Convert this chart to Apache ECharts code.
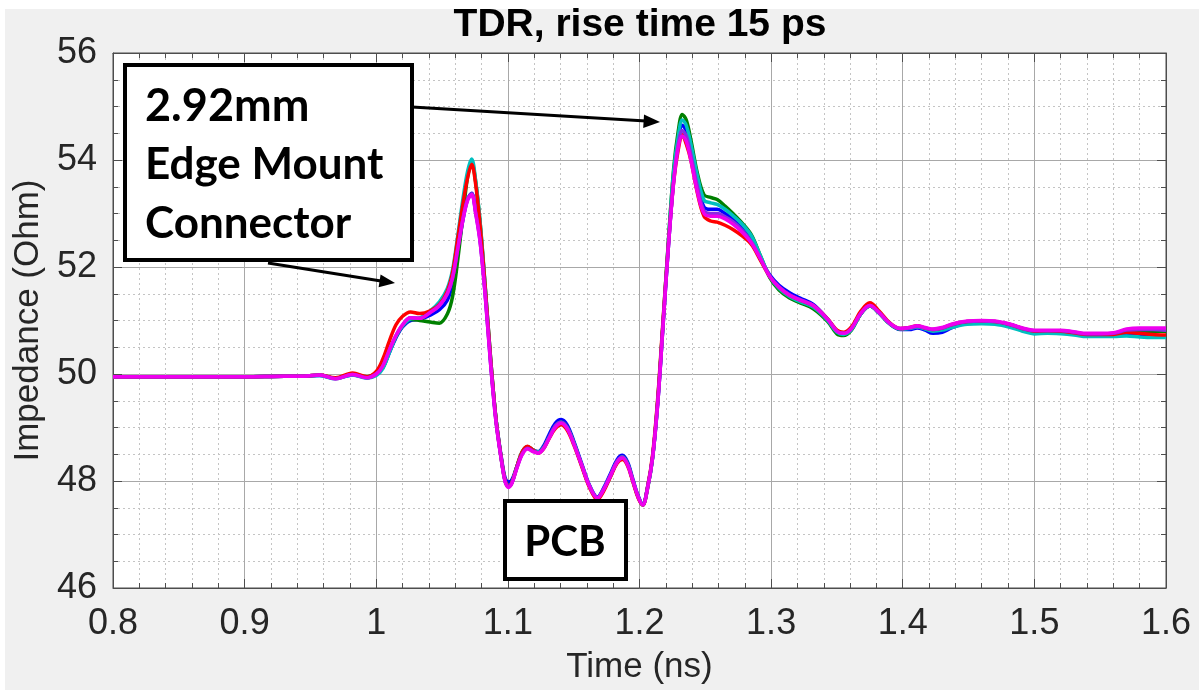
<!DOCTYPE html>
<html>
<head>
<meta charset="utf-8">
<script src="https://cdn.jsdelivr.net/npm/echarts@6/dist/echarts.min.js"></script>
<style>
html,body{margin:0;padding:0;background:#fff;}
#chart{width:1199px;height:690px;}
</style>
</head>
<body>
<div id="chart"></div>
<script>
// ---- data ----
const time = [
 0.80, 0.85, 0.90, 0.93, 0.945, 0.957, 0.969, 0.982, 0.993, 1.000,
 1.005, 1.010, 1.015, 1.020, 1.026, 1.033, 1.041, 1.048, 1.054, 1.058,
 1.062, 1.066, 1.0695, 1.0725, 1.0755, 1.079, 1.083, 1.087, 1.091, 1.095,
 1.098, 1.1005, 1.103, 1.107, 1.111, 1.115, 1.119, 1.123, 1.127, 1.131,
 1.136, 1.1405, 1.145, 1.150, 1.156, 1.162, 1.168, 1.173, 1.178, 1.183,
 1.187, 1.191, 1.195, 1.199, 1.2025, 1.206, 1.210, 1.214, 1.218, 1.222,
 1.226, 1.2295, 1.2325, 1.2355, 1.239, 1.244, 1.249, 1.254, 1.259, 1.265,
 1.271, 1.278, 1.285, 1.292, 1.299, 1.306, 1.314, 1.322, 1.332, 1.343,
 1.350, 1.355, 1.361, 1.368, 1.375, 1.382, 1.390, 1.398, 1.405, 1.411,
 1.417, 1.423, 1.430, 1.437, 1.449, 1.460, 1.470, 1.482, 1.491, 1.500,
 1.510, 1.520, 1.530, 1.540, 1.550, 1.560, 1.570, 1.580, 1.590, 1.600
];

const blue = [
 49.95, 49.95, 49.95, 49.96, 49.96, 49.97, 49.92, 49.98, 49.93, 50.00,
 50.12, 50.40, 50.68, 50.88, 51.00, 51.02, 51.10, 51.20, 51.38, 51.70,
 52.30, 52.90, 53.27, 53.38, 53.05, 52.50, 51.45, 50.20, 49.15, 48.45,
 48.05, 47.98, 48.02, 48.28, 48.52, 48.62, 48.58, 48.55, 48.65, 48.85,
 49.08, 49.15, 49.05, 48.75, 48.33, 47.92, 47.70, 47.88, 48.14, 48.40,
 48.48, 48.35, 48.03, 47.72, 47.57, 47.87, 48.45, 49.50, 50.95, 52.40,
 53.65, 54.35, 54.65, 54.55, 54.18, 53.55, 53.12, 53.08, 53.08, 53.00,
 52.90, 52.72, 52.48, 52.15, 51.85, 51.66, 51.52, 51.42, 51.30, 51.02,
 50.80, 50.76, 50.84, 51.12, 51.27, 51.14, 50.94, 50.83, 50.83, 50.86,
 50.82, 50.76, 50.78, 50.86, 50.96, 50.98, 50.97, 50.92, 50.85, 50.80,
 50.80, 50.80, 50.77, 50.74, 50.73, 50.73, 50.75, 50.72, 50.71, 50.70
];

const green = [
 49.95, 49.95, 49.95, 49.96, 49.96, 49.98, 49.92, 50.00, 49.95, 50.02,
 50.12, 50.42, 50.70, 50.90, 51.02, 51.00, 50.97, 50.95, 51.12, 51.45,
 52.15, 53.00, 53.70, 53.95, 53.60, 52.80, 51.55, 50.25, 49.15, 48.42,
 48.00, 47.90, 47.97, 48.28, 48.55, 48.64, 48.58, 48.54, 48.62, 48.80,
 49.02, 49.10, 49.00, 48.72, 48.30, 47.90, 47.68, 47.85, 48.10, 48.36,
 48.45, 48.32, 48.00, 47.70, 47.55, 47.85, 48.45, 49.55, 51.00, 52.50,
 53.85, 54.55, 54.85, 54.75, 54.38, 53.75, 53.35, 53.30, 53.26, 53.14,
 53.00, 52.82, 52.60, 52.20, 51.80, 51.57, 51.42, 51.33, 51.22, 50.98,
 50.75, 50.72, 50.82, 51.12, 51.27, 51.14, 50.94, 50.84, 50.86, 50.89,
 50.85, 50.82, 50.85, 50.91, 50.97, 50.98, 50.97, 50.91, 50.84, 50.79,
 50.79, 50.79, 50.76, 50.74, 50.74, 50.75, 50.79, 50.80, 50.80, 50.80
];

const cyan = [
 49.95, 49.95, 49.95, 49.96, 49.96, 49.97, 49.91, 49.98, 49.92, 49.97,
 50.10, 50.40, 50.70, 50.90, 51.03, 51.05, 51.18, 51.35, 51.60, 51.95,
 52.60, 53.30, 53.80, 54.02, 53.62, 52.82, 51.58, 50.25, 49.15, 48.42,
 48.00, 47.90, 47.97, 48.28, 48.55, 48.64, 48.58, 48.54, 48.62, 48.80,
 49.02, 49.10, 49.00, 48.72, 48.30, 47.90, 47.68, 47.85, 48.10, 48.36,
 48.45, 48.32, 48.00, 47.70, 47.55, 47.85, 48.45, 49.55, 51.00, 52.50,
 53.80, 54.45, 54.75, 54.65, 54.30, 53.70, 53.25, 53.20, 53.17, 53.08,
 52.96, 52.80, 52.58, 52.20, 51.82, 51.60, 51.45, 51.35, 51.25, 51.00,
 50.78, 50.74, 50.83, 51.12, 51.27, 51.14, 50.94, 50.84, 50.85, 50.88,
 50.84, 50.80, 50.82, 50.87, 50.93, 50.94, 50.93, 50.87, 50.80, 50.75,
 50.76, 50.75, 50.73, 50.70, 50.70, 50.70, 50.71, 50.69, 50.68, 50.68
];

const red = [
 49.95, 49.95, 49.95, 49.96, 49.96, 49.98, 49.93, 50.02, 49.95, 50.05,
 50.28, 50.62, 50.92, 51.08, 51.16, 51.13, 51.18, 51.30, 51.55, 51.90,
 52.55, 53.20, 53.68, 53.92, 53.55, 52.75, 51.55, 50.25, 49.15, 48.42,
 48.00, 47.90, 47.97, 48.28, 48.55, 48.65, 48.58, 48.52, 48.60, 48.78,
 48.98, 49.05, 48.95, 48.68, 48.28, 47.88, 47.65, 47.82, 48.08, 48.33,
 48.40, 48.28, 47.98, 47.68, 47.55, 47.87, 48.50, 49.60, 51.05, 52.45,
 53.60, 54.20, 54.47, 54.30, 54.00, 53.38, 52.95, 52.86, 52.84, 52.78,
 52.70, 52.58, 52.42, 52.12, 51.82, 51.62, 51.47, 51.38, 51.28, 51.03,
 50.82, 50.78, 50.88, 51.17, 51.33, 51.18, 50.96, 50.85, 50.87, 50.90,
 50.86, 50.83, 50.86, 50.92, 50.98, 50.99, 50.98, 50.92, 50.85, 50.80,
 50.81, 50.80, 50.77, 50.74, 50.74, 50.74, 50.78, 50.76, 50.74, 50.73
];

const purple = [
 49.95, 49.95, 49.95, 49.96, 49.96, 49.98, 49.91, 49.99, 49.93, 50.00,
 50.15, 50.45, 50.72, 50.92, 51.05, 51.04, 51.15, 51.28, 51.50, 51.80,
 52.35, 52.92, 53.28, 53.37, 53.02, 52.45, 51.40, 50.15, 49.10, 48.40,
 47.98, 47.90, 47.96, 48.26, 48.51, 48.61, 48.56, 48.53, 48.61, 48.80,
 49.03, 49.10, 49.00, 48.71, 48.31, 47.91, 47.69, 47.86, 48.11, 48.37,
 48.45, 48.31, 48.01, 47.71, 47.56, 47.86, 48.45, 49.50, 50.95, 52.40,
 53.62, 54.30, 54.55, 54.45, 54.10, 53.50, 53.05, 53.00, 53.00, 52.94,
 52.85, 52.69, 52.47, 52.15, 51.83, 51.63, 51.48, 51.39, 51.28, 51.02,
 50.80, 50.76, 50.85, 51.13, 51.28, 51.15, 50.95, 50.85, 50.86, 50.89,
 50.86, 50.83, 50.86, 50.92, 50.98, 50.99, 50.98, 50.92, 50.85, 50.81,
 50.81, 50.81, 50.78, 50.75, 50.75, 50.76, 50.82, 50.83, 50.83, 50.82
];

const magenta = [
 49.95, 49.95, 49.95, 49.96, 49.96, 49.98, 49.91, 49.99, 49.93, 50.00,
 50.15, 50.45, 50.72, 50.92, 51.05, 51.04, 51.15, 51.28, 51.50, 51.80,
 52.35, 52.90, 53.25, 53.35, 53.00, 52.45, 51.40, 50.15, 49.10, 48.40,
 47.98, 47.88, 47.95, 48.25, 48.50, 48.60, 48.55, 48.52, 48.60, 48.78,
 49.00, 49.08, 48.98, 48.70, 48.30, 47.90, 47.68, 47.85, 48.10, 48.35,
 48.43, 48.30, 48.00, 47.70, 47.55, 47.85, 48.45, 49.50, 50.95, 52.40,
 53.60, 54.25, 54.45, 54.35, 54.00, 53.40, 53.00, 52.95, 52.95, 52.90,
 52.80, 52.65, 52.45, 52.15, 51.82, 51.62, 51.47, 51.38, 51.28, 51.02,
 50.80, 50.76, 50.85, 51.13, 51.28, 51.15, 50.95, 50.85, 50.87, 50.90,
 50.87, 50.84, 50.87, 50.93, 50.99, 51.00, 50.99, 50.93, 50.86, 50.82,
 50.82, 50.82, 50.79, 50.76, 50.76, 50.77, 50.84, 50.86, 50.86, 50.86
];

const xTickLabels = ['0.8', '0.9', '1', '1.1', '1.2', '1.3', '1.4', '1.5', '1.6'];
const yTickLabels = ['46', '48', '50', '52', '54', '56'];

const titleText = 'TDR, rise time 15 ps';
const xName = 'Time (ns)';
const yName = 'Impedance (Ohm)';
const connectorLines = ['2.92mm', 'Edge Mount', 'Connector'];
const pcbText = 'PCB';

// ---- chart ----
const chart = echarts.init(document.getElementById('chart'), null, {renderer: 'canvas'});
const AX = '#262626';
const FONT = 'Liberation Sans, Arial, sans-serif';
const G = {left: 113, right: 33, top: 53, bottom: 102};

function pairs(arr) { return time.map((t, i) => [t, arr[i]]); }
function mk(name, color, arr) {
  return {
    name: name, type: 'line', data: pairs(arr), showSymbol: false, smooth: 0.35,
    lineStyle: {color: color, width: 3.5}, itemStyle: {color: color},
    xAxisIndex: 0, yAxisIndex: 0, z: 3, animation: false
  };
}

const xBase = {
  type: 'value', min: 0.8, max: 1.6, interval: 0.1,
  axisLine: {show: true, lineStyle: {color: '#4d4d4d', width: 1}},
  axisTick: {show: true, inside: true, length: 9, lineStyle: {color: '#4d4d4d'}},
  minorTick: {show: true, splitNumber: 5, length: 5, lineStyle: {color: '#4d4d4d'}},
};
const yBase = {
  type: 'value', min: 46, max: 56, interval: 2,
  axisLine: {show: true, lineStyle: {color: '#4d4d4d', width: 1}},
  axisTick: {show: true, inside: true, length: 9, lineStyle: {color: '#4d4d4d'}},
  minorTick: {show: true, splitNumber: 4, length: 5, lineStyle: {color: '#4d4d4d'}},
};

const option = {
  backgroundColor: '#f0f0f0',
  animation: false,
  grid: Object.assign({show: true, backgroundColor: '#ffffff', borderColor: '#4d4d4d', borderWidth: 1}, G),
  xAxis: [
    Object.assign({}, xBase, {
      position: 'bottom',
      name: xName, nameLocation: 'middle', nameGap: 62,
      nameTextStyle: {color: AX, fontSize: 35, fontFamily: FONT},
      axisLabel: {
        color: AX, fontSize: 36, fontFamily: FONT, margin: 18,
        formatter: v => xTickLabels[Math.round((v - 0.8) / 0.1)]
      },
      splitLine: {show: true, lineStyle: {color: '#a8a8a8', width: 1}},
      minorSplitLine: {show: true, lineStyle: {color: '#c4c4c4', width: 1, type: [2, 3]}}
    }),
    Object.assign({}, xBase, {
      position: 'top', axisLabel: {show: false},
      splitLine: {show: false}
    })
  ],
  yAxis: [
    Object.assign({}, yBase, {
      position: 'left',
      name: yName, nameLocation: 'middle', nameGap: 67,
      nameTextStyle: {color: AX, fontSize: 35, fontFamily: FONT},
      axisLabel: {
        color: AX, fontSize: 36, fontFamily: FONT, margin: 16,
        formatter: v => yTickLabels[Math.round((v - 46) / 2)]
      },
      splitLine: {show: true, lineStyle: {color: '#a8a8a8', width: 1}},
      minorSplitLine: {show: true, lineStyle: {color: '#c4c4c4', width: 1, type: [2, 3]}}
    }),
    Object.assign({}, yBase, {
      position: 'right', axisLabel: {show: false},
      splitLine: {show: false}
    })
  ],
  series: [
    mk('blue', '#0000ff', blue),
    mk('green', '#008000', green),
    mk('cyan', '#00bfbf', cyan),
    mk('red', '#ff0000', red),
    mk('purple', '#8b2be2', purple),
    mk('magenta', '#ee00ee', magenta)
  ],
  graphic: [
    {type: 'rect', shape: {x: 0, y: 0, width: 1199, height: 9}, style: {fill: '#ffffff'}, silent: true, z: 1},
    {type: 'rect', shape: {x: 0, y: 0, width: 5, height: 690}, style: {fill: '#ffffff'}, silent: true, z: 1},
    {type: 'text', x: 640, y: 25, style: {text: titleText, fill: '#000', font: 'bold 39px ' + FONT, align: 'center', verticalAlign: 'middle'}, z: 10},
    // connector annotation box
    {type: 'rect', shape: {x: 125, y: 65, width: 287, height: 195}, style: {fill: '#ffffff', stroke: '#000', lineWidth: 4}, z: 20},
    {type: 'text', x: 145, y: 106, style: {text: connectorLines[0], fill: '#000', font: 'bold 45px Lato, sans-serif', align: 'left', verticalAlign: 'middle'}, z: 21},
    {type: 'text', x: 145, y: 165, style: {text: connectorLines[1], fill: '#000', font: 'bold 44px Lato, sans-serif', align: 'left', verticalAlign: 'middle'}, z: 21},
    {type: 'text', x: 145, y: 224, style: {text: connectorLines[2], fill: '#000', font: 'bold 44px Lato, sans-serif', align: 'left', verticalAlign: 'middle'}, z: 21},
    // arrows
    {type: 'line', shape: {x1: 412, y1: 107, x2: 646, y2: 121}, style: {stroke: '#000', lineWidth: 3}, z: 20},
    {type: 'polygon', shape: {points: [[660, 122], [644, 114.5], [643.2, 128]]}, style: {fill: '#000'}, z: 20},
    {type: 'line', shape: {x1: 268, y1: 263, x2: 381, y2: 281}, style: {stroke: '#000', lineWidth: 3}, z: 20},
    {type: 'polygon', shape: {points: [[395, 283], [380.6, 274.4], [378.6, 287.2]]}, style: {fill: '#000'}, z: 20},
    // PCB box
    {type: 'rect', shape: {x: 505, y: 501, width: 121, height: 78}, style: {fill: '#ffffff', stroke: '#000', lineWidth: 4}, z: 20},
    {type: 'text', x: 565, y: 542, style: {text: pcbText, fill: '#000', font: 'bold 42px Lato, sans-serif', align: 'center', verticalAlign: 'middle'}, z: 21}
  ]
};
chart.setOption(option);
</script>
</body>
</html>
